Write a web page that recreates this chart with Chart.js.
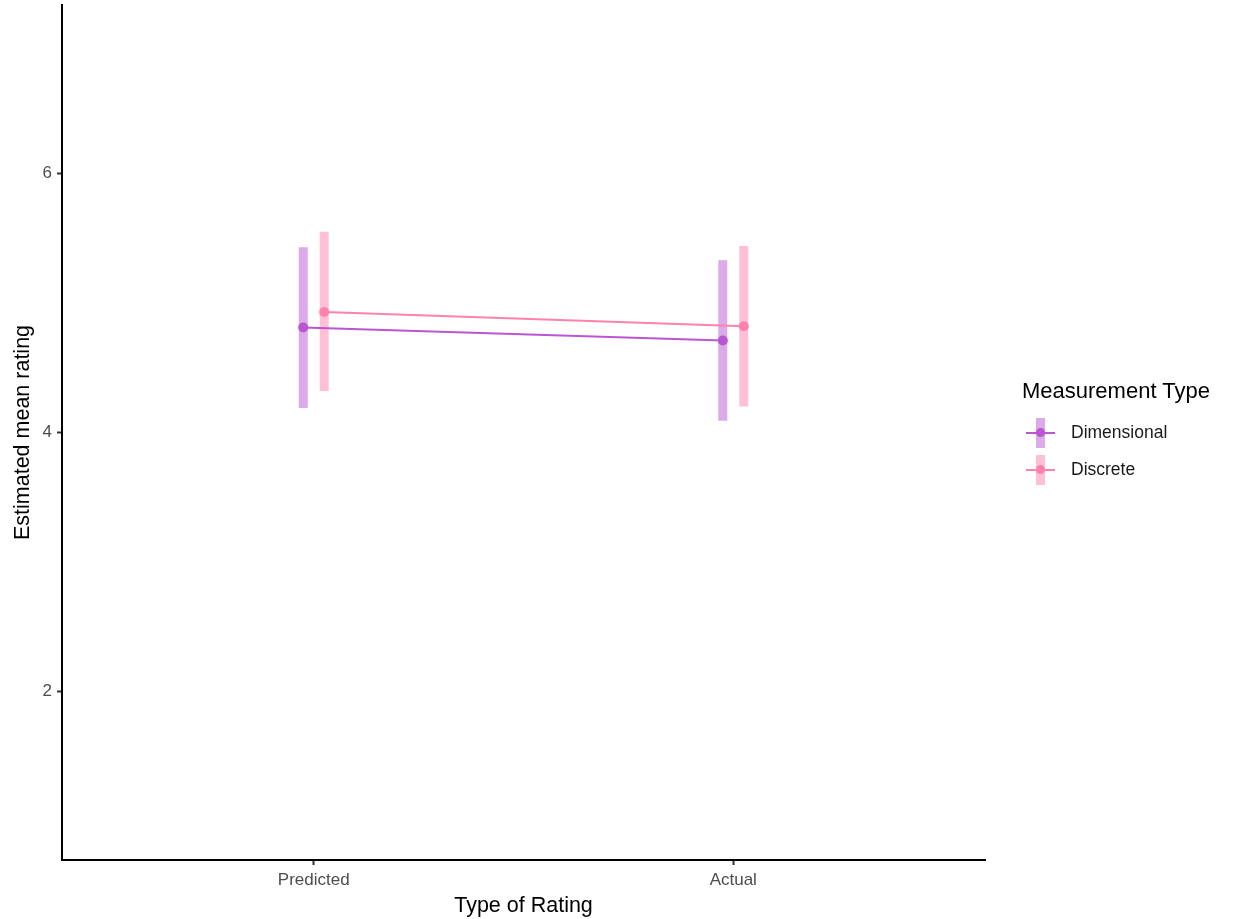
<!DOCTYPE html>
<html>
<head>
<meta charset="utf-8">
<script src="https://cdn.jsdelivr.net/npm/chart.js@4"></script>
<style>
  body { margin: 0; background: #fff; font-family: "Liberation Sans", Arial, sans-serif; }
  #wrap { position: relative; width: 1238px; height: 919px; }
  #legend { position: absolute; left: 1022px; top: 378px; color: #000; }
  #legend .ttl { font-size: 22px; margin-bottom: 14px; }
  #legend .item { position: relative; height: 37px; }
  #legend .bar { position: absolute; left: 14px; top: 0px; width: 9px; height: 30px; }
  #legend .ln { position: absolute; left: 4px; top: 14px; width: 29px; height: 2px; }
  #legend .pt { position: absolute; left: 14px; top: 10px; width: 9px; height: 9px; border-radius: 50%; }
  #legend .lab { position: absolute; left: 49px; top: 4px; font-size: 17.5px; color: #1a1a1a; }
</style>
</head>
<body>
<div id="wrap">
  <canvas id="chart" width="1238" height="919"></canvas>
  <div id="legend"></div>
</div>
<script>
// data
const categories = ['Predicted', 'Actual'];
const seriesNames = ['Dimensional', 'Discrete'];
const dimMean = [4.81, 4.71];
const dimLow = [4.19, 4.09];
const dimHigh = [5.43, 5.33];
const discMean = [4.93, 4.82];
const discLow = [4.32, 4.20];
const discHigh = [5.55, 5.44];
const yTicks = [2, 4, 6];

const colors = ['#BA55D3', '#FF82AB'];
const barColors = ['rgba(186,85,211,0.5)', 'rgba(255,130,171,0.5)'];
const dodge = [-0.025, 0.025];

const means = [dimMean, discMean];
const lows = [dimLow, discLow];
const highs = [dimHigh, discHigh];

const datasets = [];
seriesNames.forEach((name, s) => {
  // mean line + points
  datasets.push({
    label: name,
    data: categories.map((c, i) => ({ x: i + 1 + dodge[s], y: means[s][i] })),
    borderColor: colors[s],
    backgroundColor: colors[s],
    borderWidth: 2,
    pointRadius: 5,
    pointBorderWidth: 0,
    order: 0
  });
  // error bars as thick vertical segments
  categories.forEach((c, i) => {
    datasets.push({
      label: name + ' ' + c + ' CI',
      data: [{ x: i + 1 + dodge[s], y: lows[s][i] }, { x: i + 1 + dodge[s], y: highs[s][i] }],
      borderColor: barColors[s],
      borderWidth: 9,
      borderCapStyle: 'butt',
      pointRadius: 0,
      order: 1
    });
  });
});

const ctx = document.getElementById('chart').getContext('2d');
new Chart(ctx, {
  type: 'line',
  data: { datasets: datasets },
  options: {
    responsive: false,
    animation: false,
    layout: { padding: { top: 5, right: 253, left: 0, bottom: 0 } },
    plugins: { legend: { display: false }, tooltip: { enabled: false } },
    scales: {
      x: {
        type: 'linear',
        min: 0.4,
        max: 2.6,
        afterBuildTicks: (scale) => { scale.ticks = categories.map((c, i) => ({ value: i + 1 })); },
        afterFit: (scale) => { scale.height = 59; scale.paddingLeft = 0; scale.paddingRight = 0; },
        ticks: {
          callback: (v) => categories[v - 1],
          color: '#4d4d4d',
          font: { family: 'Liberation Sans', size: 17 },
          padding: 5,
          autoSkip: false,
          maxRotation: 0
        },
        grid: { drawOnChartArea: false, drawTicks: true, tickLength: 5, tickWidth: 2, tickColor: '#333' },
        border: { display: true, color: '#000', width: 2 },
        title: { display: true, text: 'Type of Rating', color: '#000', font: { family: 'Liberation Sans', size: 21.5 }, padding: { top: 0, bottom: 0 } }
      },
      y: {
        min: 0.7,
        max: 7.3,
        afterBuildTicks: (scale) => { scale.ticks = yTicks.map(v => ({ value: v })); },
        afterFit: (scale) => { scale.width = 62; scale.paddingTop = 0; scale.paddingBottom = 0; },
        ticks: {
          color: '#4d4d4d',
          font: { family: 'Liberation Sans', size: 17 },
          padding: 5
        },
        grid: { drawOnChartArea: false, drawTicks: true, tickLength: 5, tickWidth: 2, tickColor: '#333' },
        border: { display: true, color: '#000', width: 2 },
        title: { display: true, text: 'Estimated mean rating', color: '#000', font: { family: 'Liberation Sans', size: 21.5 }, padding: { top: 10, bottom: 0 } }
      }
    }
  }
});

// legend
const leg = document.getElementById('legend');
let html = '<div class="ttl">Measurement Type</div>';
seriesNames.forEach((name, s) => {
  html += '<div class="item">' +
    '<div class="bar" style="background:' + barColors[s] + '"></div>' +
    '<div class="ln" style="background:' + colors[s] + '"></div>' +
    '<div class="pt" style="background:' + colors[s] + '"></div>' +
    '<div class="lab">' + name + '</div></div>';
});
leg.innerHTML = html;
</script>
</body>
</html>
